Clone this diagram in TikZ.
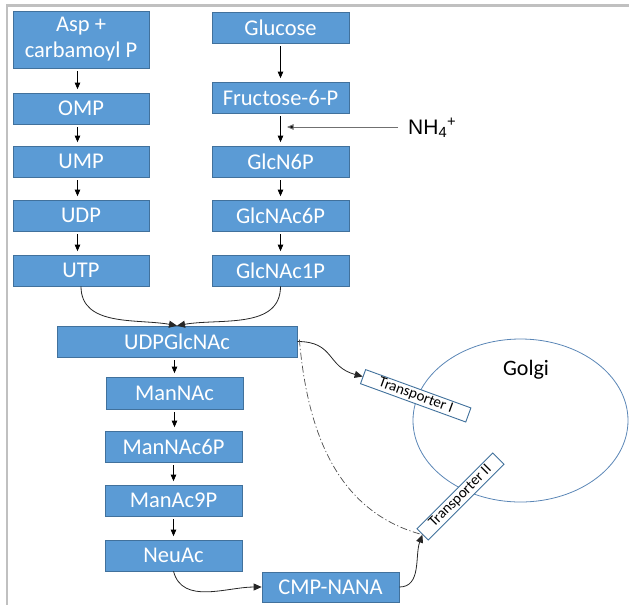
\documentclass[tikz,border=0pt]{standalone}
\usepackage{fontspec}
\setmainfont{Carlito}
\newfontfamily\arialfont{Liberation Sans}
\usetikzlibrary{arrows.meta,shapes.geometric}
\definecolor{boxfill}{HTML}{5B9BD5}
\definecolor{boxline}{HTML}{41719C}
\definecolor{framegray}{HTML}{C0C0C0}
\definecolor{golgiline}{HTML}{5A86B6}
\definecolor{nhline}{HTML}{707070}
\tikzset{
  stepbox/.style={draw=boxline, fill=boxfill, text=white, line width=0.7pt,
    inner sep=0pt, font=\fontsize{22.5}{26}\selectfont, align=center},
  colbox/.style={stepbox, minimum width=136, minimum height=31},
  transbox/.style={draw=boxline, fill=white, line width=0.9pt, inner sep=0pt,
    minimum height=15, font=\fontsize{15}{17}\selectfont},
  arr/.style={-{Triangle[length=6.5pt,width=5.5pt]}, line width=0.8pt, black},
  vstep/.style={arr, shorten <=3pt, shorten >=3.5pt},
  curvearr/.style={-{Triangle[length=8pt,width=7pt]}, line width=0.8pt, black!85},
  dashdotline/.style={line width=0.7pt, black!70, dash pattern=on 7pt off 2.5pt on 1.2pt off 2.5pt},
}
\begin{document}
\begin{tikzpicture}[x=1pt,y=-1pt]
\useasboundingbox (0,0) rectangle (629,605);
% frame (top and left edges)
\draw[framegray, line width=2.2pt] (629,5.5) -- (7,5.5) -- (7,605);

% left column
\node[colbox, minimum height=57] (asp) at (81,39.5) {Asp +\\carbamoyl P};
\node[colbox] (omp) at (81,108.5) {OMP};
\node[colbox] (ump) at (81,161.5) {UMP};
\node[colbox] (udp) at (81,215.5) {UDP};
\node[colbox] (utp) at (81,270.5) {UTP};

% right column
\node[colbox, minimum width=137] (glc) at (280.5,27.5) {Glucose};
\node[colbox, minimum width=137] (f6p) at (280.5,97.5) {Fructose-6-P};
\node[colbox, minimum width=137] (gn6p) at (280.5,161.5) {GlcN6P};
\node[colbox, minimum width=137] (gna6p) at (280.5,215.5) {GlcNAc6P};
\node[colbox, minimum width=137] (gna1p) at (280.5,270.5) {GlcNAc1P};

% middle column
\node[stepbox, minimum width=240, minimum height=31] (udpg) at (177,341.5) {UDPGlcNAc};
\node[colbox, minimum width=137, minimum height=32] (mna) at (174.5,393) {ManNAc};
\node[colbox, minimum width=137] (mna6p) at (173.5,446.5) {ManNAc6P};
\node[colbox, minimum width=137] (ma9p) at (173.5,500.5) {ManAc9P};
\node[colbox, minimum width=137] (neu) at (173.5,555.5) {NeuAc};
\node[colbox, minimum width=137, minimum height=30] (cmp) at (330.5,587) {CMP-NANA};

% Golgi
\node[draw=golgiline, line width=0.8pt, ellipse, inner sep=0pt,
      minimum width=215, minimum height=163] (golgi) at (520.5,420.5) {};
\node[font=\fontsize{22}{26}\selectfont, anchor=base] (golgilabel) at (526,375) {Golgi};
\node[transbox, minimum width=112, rotate=-20] (t1) at (415.7,395.8) {Transporter I};
\node[transbox, minimum width=107, minimum height=16, rotate=45] (t2) at (460.5,496.5) {Transporter II};

% NH4+
\node[font=\arialfont\fontsize{21}{24}\selectfont, anchor=base west, inner sep=0pt] (nh4) at (408,134.5) {NH\textsubscript{4}\textsuperscript{+}};
\coordinate (nhtip) at (287,127);

% vertical steps
\draw[vstep] ([xshift=-3.5]asp.south) -- ([xshift=-3.5]omp.north);
\draw[vstep] ([xshift=-3.5]omp.south) -- ([xshift=-3.5]ump.north);
\draw[vstep] ([xshift=-3.5]ump.south) -- ([xshift=-3.5]udp.north);
\draw[vstep] ([xshift=-3.5]udp.south) -- ([xshift=-3.5]utp.north);
\draw[vstep] (glc.south) -- (f6p.north);
\draw[vstep] (f6p.south) -- (gn6p.north);
\draw[vstep] (gn6p.south) -- (gna6p.north);
\draw[vstep] (gna6p.south) -- (gna1p.north);
\draw[vstep] (udpg.south -| mna.north) -- (mna.north);
\draw[vstep] (mna.south) -- (mna.south |- mna6p.north);
\draw[vstep] (mna6p.south) -- (ma9p.north);
\draw[vstep] (ma9p.south) -- (neu.north);
\draw[nhline, line width=1pt, -{Triangle[length=6.5pt,width=5.5pt,fill=black]}, shorten <=10pt]
  (nh4.west |- nhtip) -- (nhtip);

% curved connectors
\draw[curvearr] (utp.south) to[out=-90,in=170] (udpg.north);
\draw[curvearr] (gna1p.south) to[out=-90,in=10] (udpg.north);
\draw[curvearr] (neu.south) to[out=-75,in=180] (cmp.west);
\draw[curvearr] (udpg.east) to[out=0,in=165,looseness=1.3] (t1.west);
\draw[dashdotline] ([xshift=2,yshift=2]udpg.east) to[out=-85,in=165] (t2.west);
\draw[curvearr] (cmp.east) to[out=0,in=-110] (t2.west);
\end{tikzpicture}
\end{document}
